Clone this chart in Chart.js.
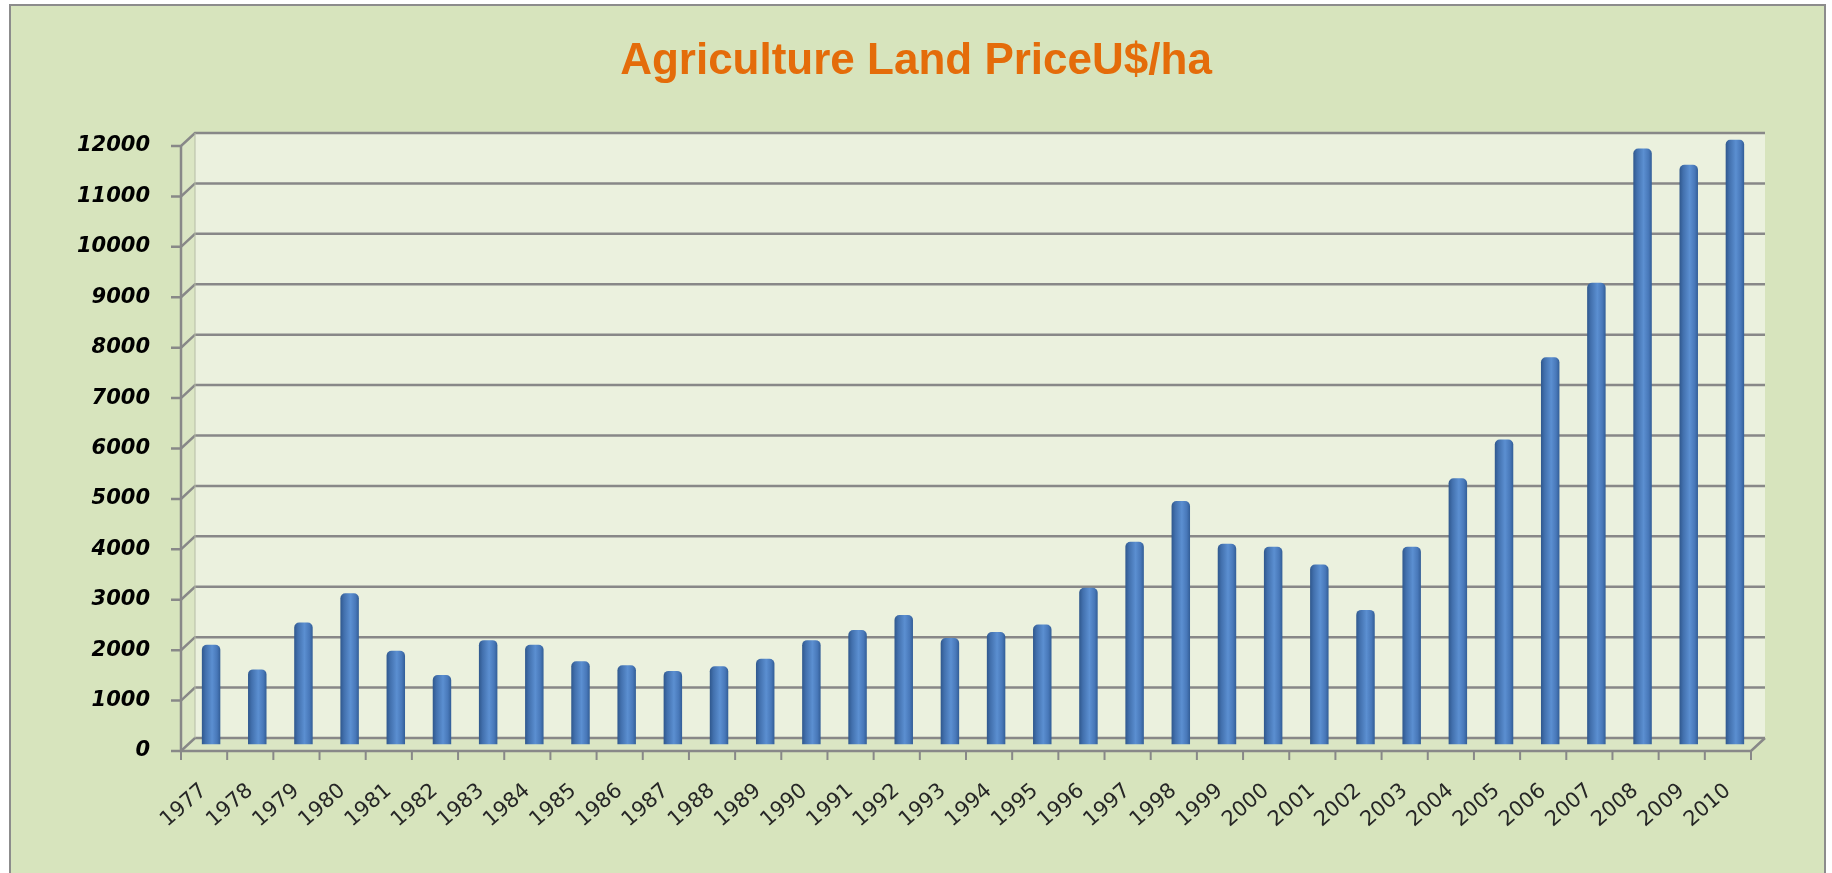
<!DOCTYPE html>
<html>
<head>
<meta charset="utf-8">
<title>Agriculture Land Price</title>
<script src="https://cdn.jsdelivr.net/npm/chart.js@4.4.1/dist/chart.umd.min.js"></script>
<style>
  html, body { margin: 0; padding: 0; background: #fff; }
  #wrap { position: absolute; left: 0; top: 0; width: 1832px; height: 873px; }
</style>
</head>
<body>
<div id="wrap"><canvas id="landChart"></canvas></div>
<script>
// --- data ---
const years = ["1977", "1978", "1979", "1980", "1981", "1982", "1983", "1984", "1985", "1986",
    "1987", "1988", "1989", "1990", "1991", "1992", "1993", "1994", "1995", "1996",
    "1997", "1998", "1999", "2000", "2001", "2002", "2003", "2004", "2005", "2006",
    "2007", "2008", "2009", "2010"];
const prices = [1980, 1490, 2420, 3000, 1860, 1380, 2070, 1980, 1650, 1570,
    1460, 1550, 1700, 2070, 2270, 2570, 2110, 2230, 2380, 3110,
    4020, 4830, 3980, 3920, 3570, 2670, 3920, 5280, 6050, 7680,
    9160, 11820, 11500, 12000];
const yTicks = [0, 1000, 2000, 3000, 4000, 5000, 6000, 7000, 8000, 9000, 10000, 11000, 12000];

const chartTitle = "Agriculture Land PriceU$/ha";

// depth offset between the middle plane (bars) and back wall / front axis
const DX = 7, DY = 6.5;

// excel-like 3d walls, grid and axes
const wall3d = {
    id: "wall3d",
    beforeDraw(chart) {
        const ctx = chart.ctx;
        ctx.save();
        ctx.fillStyle = "#ffffff";
        ctx.fillRect(0, 0, chart.width, chart.height);
        ctx.fillStyle = "#D7E4BD";
        ctx.fillRect(10, 5, 1815, 880);
        ctx.strokeStyle = "#8c8c8c";
        ctx.lineWidth = 2;
        ctx.strokeRect(10, 5, 1815, 880);
        ctx.restore();
    },
    beforeDatasetsDraw(chart) {
        const { ctx, chartArea: a, scales: { x, y } } = chart;
        const top = y.getPixelForValue(yTicks[yTicks.length - 1]);
        const bot = y.getPixelForValue(0);
        ctx.save();

        // back wall
        ctx.fillStyle = "#EBF1DE";
        ctx.fillRect(a.left + DX, top - DY, a.right - a.left, bot - top);

        // side wall + floor
        ctx.fillStyle = "#DBE6C4";
        ctx.beginPath();
        ctx.moveTo(a.left - DX, top + DY);
        ctx.lineTo(a.left + DX, top - DY);
        ctx.lineTo(a.left + DX, bot - DY);
        ctx.lineTo(a.left - DX, bot + DY);
        ctx.closePath();
        ctx.fill();
        ctx.beginPath();
        ctx.moveTo(a.left - DX, bot + DY);
        ctx.lineTo(a.left + DX, bot - DY);
        ctx.lineTo(a.right + DX, bot - DY);
        ctx.lineTo(a.right - DX, bot + DY);
        ctx.closePath();
        ctx.fill();

        // grid lines
        ctx.strokeStyle = "#888888";
        ctx.lineWidth = 2.5;
        yTicks.forEach(v => {
            const p = y.getPixelForValue(v);
            ctx.beginPath();
            ctx.moveTo(a.left - DX - 10, p + DY);
            ctx.lineTo(a.left - DX, p + DY);
            ctx.lineTo(a.left + DX, p - DY);
            ctx.lineTo(a.right + DX, p - DY);
            ctx.stroke();
        });

        // back wall left edge
        ctx.lineWidth = 1;
        ctx.strokeStyle = "#b5bca6";
        ctx.beginPath();
        ctx.moveTo(a.left + DX, top - DY);
        ctx.lineTo(a.left + DX, bot - DY);
        ctx.stroke();

        // front axes
        ctx.strokeStyle = "#888888";
        ctx.lineWidth = 2.5;
        ctx.beginPath();
        ctx.moveTo(a.left - DX, top + DY);
        ctx.lineTo(a.left - DX, bot + DY);
        ctx.lineTo(a.right - DX, bot + DY);
        ctx.lineTo(a.right + DX, bot - DY);
        ctx.stroke();

        // category tick marks
        const half = (x.getPixelForValue(1) - x.getPixelForValue(0)) / 2;
        ctx.lineWidth = 2;
        for (let i = 0; i <= years.length; i++) {
            const px = x.getPixelForValue(i) - half - DX;
            ctx.beginPath();
            ctx.moveTo(px, bot + DY);
            ctx.lineTo(px, bot + DY + 9);
            ctx.stroke();
        }
        ctx.restore();
    }
};

// cylinder-ish shading for each bar
function barFill(context) {
    const chart = context.chart;
    const x = chart.scales.x;
    if (!x || context.dataIndex === undefined) return "#4F81BD";
    const cx = x.getPixelForValue(context.dataIndex);
    if (!isFinite(cx)) return "#4F81BD";
    const w = 10;
    const g = chart.ctx.createLinearGradient(cx - w, 0, cx + w, 0);
    g.addColorStop(0, "#2b5286");
    g.addColorStop(0.22, "#4270ad");
    g.addColorStop(0.55, "#5b8fd1");
    g.addColorStop(0.8, "#4878b9");
    g.addColorStop(1, "#2d578e");
    return g;
}

const ctx = document.getElementById("landChart").getContext("2d");
new Chart(ctx, {
    type: "bar",
    data: {
        labels: years,
        datasets: [{
            label: "U$/ha",
            data: prices,
            backgroundColor: barFill,
            borderWidth: 0,
            borderRadius: { topLeft: 5, topRight: 5, bottomLeft: 0, bottomRight: 0 },
            borderSkipped: "bottom",
            barPercentage: 0.4,
            categoryPercentage: 1.0,
        }, ],
    },
    options: {
        responsive: true,
        maintainAspectRatio: false,
        animation: false,
        layout: { padding: 0 },
        scales: {
            y: {
                min: 0,
                max: 12000,
                afterBuildTicks: scale => {
                    scale.ticks = yTicks.map(v => ({ value: v }));
                },
                afterFit: scale => { scale.width = 188; },
                grid: { display: false, drawTicks: false },
                border: { display: false },
                ticks: {
                    color: "#000000",
                    padding: 38,
                    labelOffset: 6.5,
                    callback: v => String(v),
                    font: { family: "'DejaVu Sans', sans-serif", size: 21, weight: "bold", style: "italic" },
                },
            },
            // empty axis on the right, only to keep space beside the back wall
            yRight: {
                position: "right",
                min: 0,
                max: 12000,
                afterFit: scale => { scale.width = 74; },
                grid: { display: false, drawTicks: false },
                border: { display: false },
                ticks: { display: false },
            },
            x: {
                afterFit: scale => { scale.height = 128.5; },
                grid: { display: false, drawTicks: false },
                border: { display: false },
                ticks: {
                    color: "#262626",
                    minRotation: 41,
                    maxRotation: 41,
                    autoSkip: false,
                    padding: 34,
                    labelOffset: -7,
                    font: { family: "'DejaVu Sans', sans-serif", size: 21 },
                },
            },
        },
        plugins: {
            legend: { display: false },
            tooltip: { enabled: false },
            title: {
                display: true,
                text: chartTitle,
                color: "#E46C0A",
                font: { family: "'Liberation Sans', sans-serif", size: 44, weight: "bold" },
                padding: { top: 35, bottom: 51.7 },
            },
        },
    },
    plugins: [wall3d],
});
</script>
</body>
</html>
